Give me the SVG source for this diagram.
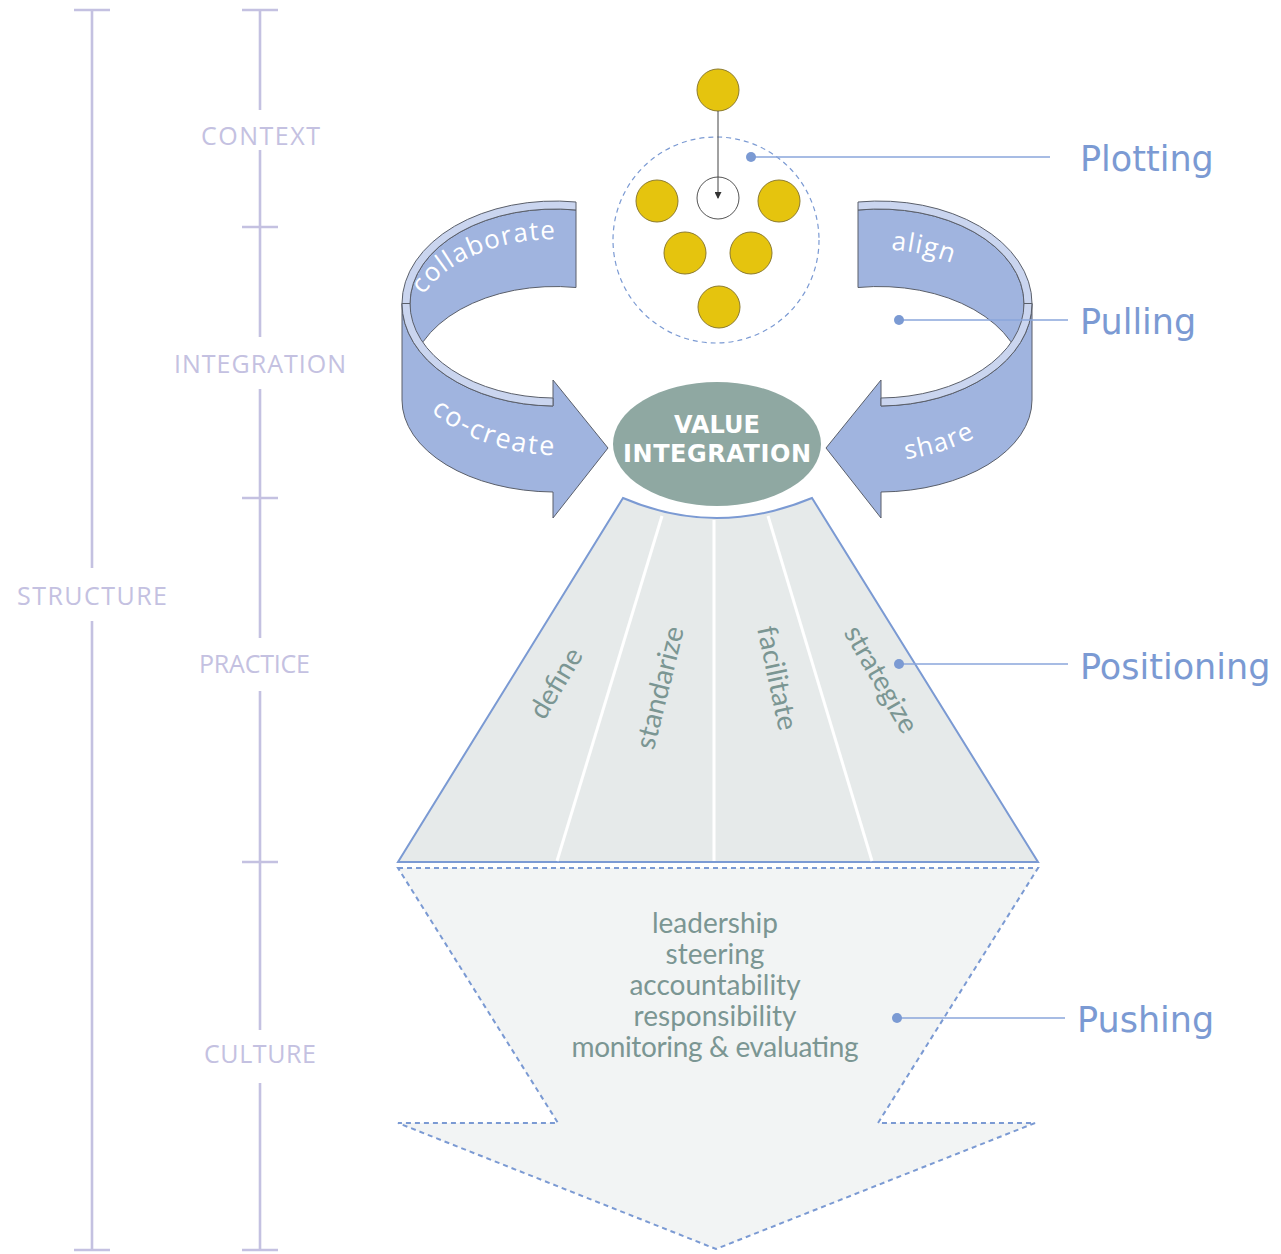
<svg xmlns="http://www.w3.org/2000/svg" xmlns:xlink="http://www.w3.org/1999/xlink" width="1281" height="1254" viewBox="0 0 1281 1254">
<style>
.scale{stroke:#c4c1e1;stroke-width:2.6;fill:none}
.scaletxt{font-family:"Open Sans","Liberation Sans",sans-serif;font-size:25px;fill:#c4c1e1}
.dark{fill:#a0b4df;stroke:#5a5f6a;stroke-width:1}
.light{fill:#cad5ef;stroke:#5a5f6a;stroke-width:1}
.ribbontxt{font-family:"Open Sans","Liberation Sans",sans-serif;font-size:26px;fill:#ffffff;letter-spacing:1.2px}
.yellow{fill:#e5c40e;stroke:#8c7b2e;stroke-width:1}
.lead{stroke:#8aa6db;stroke-width:1.5;fill:none}
.dot{fill:#7b9ad3}
.lbl{font-family:"DejaVu Sans","Verdana",sans-serif;font-size:35px;fill:#7b9ad3}
.word{font-family:Lato,"Open Sans",sans-serif;font-size:28px;fill:#7b9693}
.divider{stroke:#ffffff;stroke-width:3}
</style>
<defs>
<marker id="ah" markerWidth="7" markerHeight="7" refX="6" refY="3.5" orient="auto" markerUnits="userSpaceOnUse"><path d="M0,0 L7,3.5 L0,7 Z" fill="#333"/></marker>
<g id="uturn">
<path class="dark" d="M576,210 A145,94.5 0 0 0 410,303.5 L410,381 A145,94.5 0 0 1 576,287.5 Z"/>
<path class="light" d="M576,202 A153,102.5 0 0 0 402,303.5 L410,303.5 A145,94.5 0 0 1 576,210 Z"/>
<path class="dark" d="M402,303.5 A153,102.5 0 0 0 553,406 L553,398 L553,380 L608,448 L553,518 L553,492 A153,92 0 0 1 402,400 Z"/>
<path class="light" d="M402,303.5 A153,102.5 0 0 0 553,406 L553,398 A145,94.5 0 0 1 410,303.5 Z"/>
</g>
<path id="p-collab" d="M420,300 A145,95 0 0 1 576,240"/>
<path id="p-cocreate" d="M425,406 A170,124 0 0 0 600,452"/>
<path id="p-align" d="M858,249 A160,102 0 0 1 1010,301"/>
<path id="p-share" d="M834,458 A170,122 0 0 0 1010,412"/>
</defs>

<g id="scales">
<line class="scale" x1="92" y1="10" x2="92" y2="568"/>
<line class="scale" x1="92" y1="621" x2="92" y2="1250"/>
<line class="scale" x1="74" y1="10" x2="110" y2="10"/>
<line class="scale" x1="74" y1="1250" x2="110" y2="1250"/>
<text class="scaletxt" x="17" y="605" textLength="150">STRUCTURE</text>
<line class="scale" x1="260" y1="10" x2="260" y2="110"/>
<line class="scale" x1="260" y1="150" x2="260" y2="337"/>
<line class="scale" x1="260" y1="389" x2="260" y2="638"/>
<line class="scale" x1="260" y1="691" x2="260" y2="1030"/>
<line class="scale" x1="260" y1="1083" x2="260" y2="1250"/>
<line class="scale" x1="242" y1="10" x2="278" y2="10"/>
<line class="scale" x1="242" y1="227" x2="278" y2="227"/>
<line class="scale" x1="242" y1="498" x2="278" y2="498"/>
<line class="scale" x1="242" y1="862" x2="278" y2="862"/>
<line class="scale" x1="242" y1="1250" x2="278" y2="1250"/>
<text class="scaletxt" x="201" y="145" textLength="119">CONTEXT</text>
<text class="scaletxt" x="174" y="373" textLength="172">INTEGRATION</text>
<text class="scaletxt" x="199" y="673" textLength="111">PRACTICE</text>
<text class="scaletxt" x="204" y="1063" textLength="112">CULTURE</text>
</g>

<g id="node-pushing-arrow">
<path d="M398,868 L1038,868 L878,1123 L1035,1123 L716,1249 L398,1123 L558,1123 Z" fill="#f2f4f4" stroke="#7b9ad3" stroke-width="2" stroke-dasharray="5 4"/>
<g class="word" text-anchor="middle">
<text x="715" y="933">leadership</text>
<text x="715" y="964">steering</text>
<text x="715" y="995">accountability</text>
<text x="715" y="1026">responsibility</text>
<text x="715" y="1057" textLength="287">monitoring &amp; evaluating</text>
</g>
</g>

<g id="node-positioning-trapezoid">
<path d="M623,498 Q716,538 812,498 L1038,862 L398,862 Z" fill="#e6eaea" stroke="#7b9ad3" stroke-width="2"/>
<line class="divider" x1="662" y1="516" x2="557" y2="861"/>
<line class="divider" x1="714" y1="520" x2="714" y2="861"/>
<line class="divider" x1="768" y1="516" x2="872" y2="861"/>
<text class="word" text-anchor="middle" transform="translate(564,688) rotate(-59)">define</text>
<text class="word" text-anchor="middle" transform="translate(669,690) rotate(-76)">standarize</text>
<text class="word" text-anchor="middle" transform="translate(768,680) rotate(78)">facilitate</text>
<text class="word" text-anchor="middle" transform="translate(873,684) rotate(60)">strategize</text>
</g>

<g id="node-left-arrow">
<use xlink:href="#uturn" href="#uturn"/>
<text class="ribbontxt"><textPath xlink:href="#p-collab" href="#p-collab" startOffset="6">collaborate</textPath></text>
<text class="ribbontxt" style="font-size:27px;letter-spacing:2px"><textPath xlink:href="#p-cocreate" href="#p-cocreate" startOffset="8">co-create</textPath></text>
</g>

<g id="node-right-arrow">
<use xlink:href="#uturn" href="#uturn" transform="matrix(-1 0 0 1 1434 0)"/>
<text class="ribbontxt"><textPath xlink:href="#p-align" href="#p-align" startOffset="33">align</textPath></text>
<text class="ribbontxt"><textPath xlink:href="#p-share" href="#p-share" startOffset="72">share</textPath></text>
</g>

<g id="node-value-integration">
<ellipse cx="717" cy="444" rx="104" ry="62" fill="#8fa8a2"/>
<text x="717" y="433" text-anchor="middle" font-family="'DejaVu Sans','Verdana',sans-serif" font-weight="bold" font-size="24" fill="#ffffff">VALUE</text>
<text x="717" y="462" text-anchor="middle" font-family="'DejaVu Sans','Verdana',sans-serif" font-weight="bold" font-size="24" fill="#ffffff" textLength="188">INTEGRATION</text>
</g>

<g id="node-plotting">
<circle cx="716" cy="240" r="103" fill="none" stroke="#7b9ad3" stroke-width="1.2" stroke-dasharray="5 4"/>
<circle class="yellow" cx="718" cy="90" r="21"/>
<circle cx="718" cy="198" r="21" fill="#ffffff" stroke="#555" stroke-width="1"/>
<circle class="yellow" cx="657" cy="201" r="21"/>
<circle class="yellow" cx="779" cy="201" r="21"/>
<circle class="yellow" cx="685" cy="253" r="21"/>
<circle class="yellow" cx="751" cy="253" r="21"/>
<circle class="yellow" cx="719" cy="307" r="21"/>
</g>

<g id="connectors">
<line x1="718" y1="111" x2="718" y2="198" stroke="#444" stroke-width="1" marker-end="url(#ah)"/>
<line class="lead" x1="751" y1="157" x2="1050" y2="157"/>
<circle class="dot" cx="751" cy="157" r="5"/>
<line class="lead" x1="899" y1="320" x2="1068" y2="320"/>
<circle class="dot" cx="899" cy="320" r="5"/>
<line class="lead" x1="899" y1="664" x2="1068" y2="664"/>
<circle class="dot" cx="899" cy="664" r="5"/>
<line class="lead" x1="897" y1="1018" x2="1065" y2="1018"/>
<circle class="dot" cx="897" cy="1018" r="5"/>
</g>

<g id="labels">
<text class="lbl" x="1080" y="171">Plotting</text>
<text class="lbl" x="1080" y="334">Pulling</text>
<text class="lbl" x="1080" y="679">Positioning</text>
<text class="lbl" x="1077" y="1032">Pushing</text>
</g>
</svg>
